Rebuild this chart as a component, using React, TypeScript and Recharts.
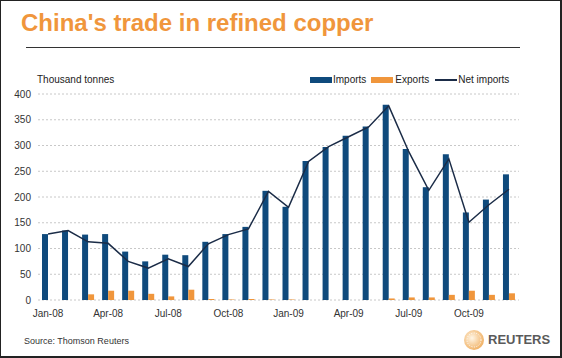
import React from 'react'
import { ComposedChart, Bar, Line, XAxis, YAxis, CartesianGrid } from 'recharts'

// monthly data, thousand tonnes
const months = [
  'Jan-08', 'Feb-08', 'Mar-08', 'Apr-08', 'May-08', 'Jun-08', 'Jul-08', 'Aug-08', 'Sep-08', 'Oct-08', 'Nov-08', 'Dec-08',
  'Jan-09', 'Feb-09', 'Mar-09', 'Apr-09', 'May-09', 'Jun-09', 'Jul-09', 'Aug-09', 'Sep-09', 'Oct-09', 'Nov-09', 'Dec-09',
]
const imports = [128, 135, 127, 128, 94, 75, 88, 87, 113, 128, 142, 212, 181, 270, 297, 319, 337, 379, 293, 219, 283, 170, 195, 244]
const exports = [0, 0, 11, 18, 18, 12, 7, 20, 2, 1, 2, 1, 1, 0, 0, 0, 0, 3, 5, 5, 10, 18, 10, 13]
const netImports = [128, 135, 113, 110, 75, 62, 80, 65, 109, 127, 138, 211, 180, 269, 298, 317, 336, 377, 288, 213, 274, 151, 185, 215]
const yTicks = [0, 50, 100, 150, 200, 250, 300, 350, 400]

const data = months.map((m, i) => ({
  month: m,
  imports: imports[i],
  exports: exports[i],
  net: netImports[i],
}))

const FONT = '"Liberation Sans", Arial, sans-serif'
const NAVY = '#0f4a7c'
const ORANGE = '#f0963c'
const LINE = '#1b2c47'

export default function App() {
  return (
    <div
      style={{
        position: 'fixed',
        left: 0,
        top: 0,
        width: 562,
        height: 358,
        background: '#fff',
        fontFamily: FONT,
        overflow: 'hidden',
      }}
    >
      <ComposedChart
        width={562}
        height={358}
        data={data}
        margin={{ top: 94, right: 43, bottom: 27, left: 0 }}
        barGap={0}
      >
        <CartesianGrid vertical={false} stroke="#c8c8c8" strokeDasharray="2 2" />
        <XAxis
          dataKey="month"
          interval={2}
          tickLine={false}
          axisLine={false}
          tickSize={0}
          tickMargin={10}
          height={31}
          tick={{ fontSize: 10, fill: '#333', fontFamily: FONT }}
        />
        <YAxis
          domain={[0, 400]}
          ticks={yTicks}
          tickLine={false}
          axisLine={false}
          tickSize={0}
          tickMargin={7}
          width={38}
          tick={{ fontSize: 10, fill: '#333', fontFamily: FONT }}
        />
        <Bar dataKey="imports" fill={NAVY} barSize={6} isAnimationActive={false} />
        <Bar dataKey="exports" fill={ORANGE} barSize={6} isAnimationActive={false} />
        <Line
          type="linear"
          dataKey="net"
          stroke={LINE}
          strokeWidth={1.5}
          dot={false}
          isAnimationActive={false}
        />
      </ComposedChart>

      {/* title + rule */}
      <div
        style={{
          position: 'absolute',
          left: 21,
          top: 11,
          fontSize: 24,
          lineHeight: '24px',
          fontWeight: 'bold',
          color: ORANGE,
          whiteSpace: 'nowrap',
        }}
      >
        China's trade in refined copper
      </div>
      <div style={{ position: 'absolute', left: 26, top: 47, width: 494, height: 1, background: '#333' }} />

      {/* unit label */}
      <div style={{ position: 'absolute', left: 37, top: 74, fontSize: 10, lineHeight: '12px', color: '#222' }}>
        Thousand tonnes
      </div>

      {/* legend */}
      <div
        style={{
          position: 'absolute',
          left: 310,
          top: 74,
          fontSize: 10,
          lineHeight: '12px',
          color: '#222',
          display: 'flex',
          alignItems: 'center',
          whiteSpace: 'nowrap',
        }}
      >
        <span style={{ display: 'inline-block', width: 22, height: 6, background: NAVY, marginRight: 1 }} />
        <span style={{ marginRight: 5 }}>Imports</span>
        <span style={{ display: 'inline-block', width: 22, height: 6, background: ORANGE, marginRight: 2 }} />
        <span style={{ marginRight: 6 }}>Exports</span>
        <span style={{ display: 'inline-block', width: 22, height: 1.5, background: LINE, marginRight: 1 }} />
        <span>Net imports</span>
      </div>

      {/* footer */}
      <div style={{ position: 'absolute', left: 24, top: 336, fontSize: 9, lineHeight: '11px', color: '#333' }}>
        Source: Thomson Reuters
      </div>
      <svg style={{ position: 'absolute', left: 463, top: 329 }} width={22} height={22}>
        <defs>
          <radialGradient id="rg" cx="40%" cy="40%" r="60%">
            <stop offset="0%" stopColor="#fff6e6" />
            <stop offset="100%" stopColor="#f1b46a" />
          </radialGradient>
        </defs>
        <circle cx={11} cy={11} r={10} fill="url(#rg)" />
        <circle cx={11} cy={11} r={7} fill="none" stroke="#fff" strokeWidth={1} strokeDasharray="1 1.5" />
      </svg>
      <div
        style={{
          position: 'absolute',
          left: 488,
          top: 332,
          fontSize: 13,
          lineHeight: '15px',
          fontWeight: 'bold',
          color: '#5a5a5a',
        }}
      >
        REUTERS
      </div>

      {/* frame */}
      <div
        style={{
          position: 'absolute',
          left: 0,
          top: 0,
          width: 562,
          height: 358,
          boxSizing: 'border-box',
          borderLeft: '1px solid #222',
          borderTop: '1px solid #222',
          borderRight: '2px solid #222',
          borderBottom: '2px solid #222',
          pointerEvents: 'none',
        }}
      />
    </div>
  )
}
